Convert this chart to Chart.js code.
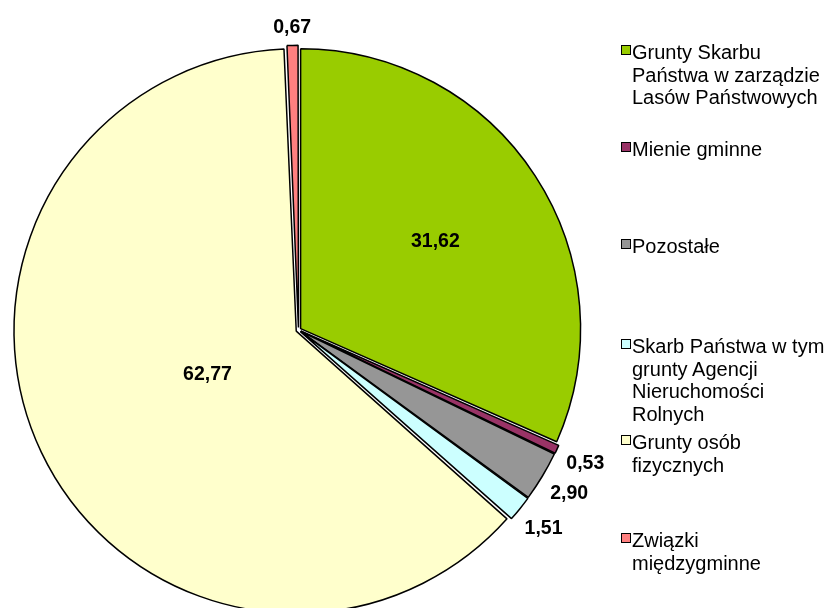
<!DOCTYPE html>
<html lang="pl">
<head>
<meta charset="utf-8">
<title>Struktura własności gruntów</title>
<script src="https://cdn.jsdelivr.net/npm/chart.js@4.4.1/dist/chart.umd.min.js"></script>
<style>
  html, body { margin:0; padding:0; background:#fff; overflow:hidden; }
  #wrap { position:relative; width:829px; height:608px; overflow:hidden; }
  #pie { position:absolute; left:0; top:0; }
  .lg-item { position:absolute; left:621px; font:20px "Liberation Sans", Arial, sans-serif;
             line-height:22.5px; color:#000; white-space:nowrap; }
  .lg-box { position:absolute; left:0; width:8px; height:8px; border:1px solid #000; }
  .lg-text { position:absolute; left:11px; top:0; }
</style>
</head>
<body>
<div id="wrap">
  <canvas id="pie" width="829" height="620"></canvas>
  <div id="legend"></div>
</div>
<script>
// ── Data ──────────────────────────────────────────────────────────
const categories = [
  ["Grunty Skarbu", "Państwa w zarządzie", "Lasów Państwowych"],
  ["Mienie gminne"],
  ["Pozostałe"],
  ["Skarb Państwa w tym", "grunty Agencji", "Nieruchomości", "Rolnych"],
  ["Grunty osób", "fizycznych"],
  ["Związki", "międzygminne"],
];
const shares = [31.62, 0.53, 2.90, 1.51, 62.77, 0.67];
const shareLabels = ["31,62", "0,53", "2,90", "1,51", "62,77", "0,67"];

// ── Styles ────────────────────────────────────────────────────────
const colors = ["#99CC00", "#993366", "#969696", "#CCFFFF", "#FFFFCC", "#FF8080"];
const legendCenters = [50, 147, 244, 344, 440, 538];   // marker centre y in px
const LABEL_FONT = "bold 19.5px 'Liberation Sans', Arial, sans-serif";

// ── Value labels (inside big slices, outside small ones) ─────────
const valueLabels = {
  id: "valueLabels",
  afterDatasetsDraw(chart) {
    const ctx = chart.ctx;
    const arcs = chart.getDatasetMeta(0).data;
    ctx.save();
    ctx.font = LABEL_FONT;
    ctx.fillStyle = "#000";
    ctx.textAlign = "center";
    ctx.textBaseline = "middle";
    arcs.forEach((arc, i) => {
      const { x, y, startAngle, endAngle, outerRadius } = arc.getProps(
        ["x", "y", "startAngle", "endAngle", "outerRadius"], true);
      const mid = (startAngle + endAngle) / 2;
      const cx = Math.cos(mid), cy = Math.sin(mid);
      const text = shareLabels[i];
      let r;
      if (shares[i] > 10) {
        r = outerRadius * (shares[i] > 50 ? 0.36 : 0.584);
      } else {
        const w = ctx.measureText(text).width, h = 14;
        r = outerRadius + 16 + Math.abs(cx) * w / 2 + Math.abs(cy) * h / 2;
      }
      ctx.fillText(text, x + cx * r, y + cy * r + 1);
    });
    ctx.restore();
  }
};

new Chart(document.getElementById("pie"), {
  type: "pie",
  data: {
    labels: categories,
    datasets: [{
      data: shares,
      backgroundColor: colors,
      borderColor: "#000",
      borderWidth: 1.5,
      offset: 10,
      hoverOffset: 10,
    }]
  },
  options: {
    responsive: false,
    animation: false,
    events: [],
    layout: { padding: { left: 13, top: 44.5, right: 829 - 13 - 571, bottom: 620 - 44.5 - 571 } },
    plugins: { legend: { display: false }, tooltip: { enabled: false } }
  },
  plugins: [valueLabels]
});

// ── Legend (HTML, wrapped like the original) ─────────────────────
document.getElementById("legend").innerHTML = categories.map((lines, i) => `
  <div class="lg-item" style="top:${legendCenters[i] - 8.9}px">
    <div class="lg-box" style="top:3.9px;background:${colors[i]}"></div>
    <div class="lg-text">${lines.join("<br>")}</div>
  </div>`).join("");
</script>
</body>
</html>
